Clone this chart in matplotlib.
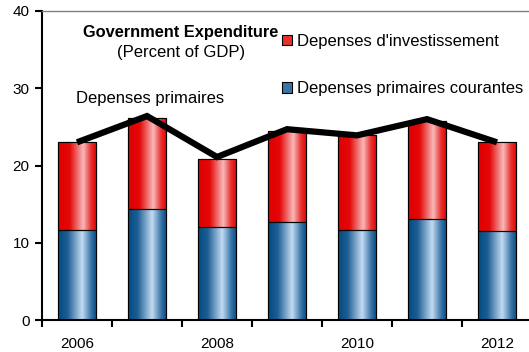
import numpy as np
import matplotlib
matplotlib.use("Agg")
import matplotlib.pyplot as plt
from matplotlib.colors import LinearSegmentedColormap
from matplotlib.patches import Patch

plt.rcParams['font.family'] = ['Liberation Sans', 'DejaVu Sans']

years = [2006, 2007, 2008, 2009, 2010, 2011, 2012]
courantes = [11.6, 14.4, 12.1, 12.7, 11.6, 13.1, 11.5]
totals = [23.1, 26.2, 20.9, 24.5, 23.9, 25.7, 23.0]
investissement = [t - c for t, c in zip(totals, courantes)]
primaires = [23.0, 26.4, 21.1, 24.7, 23.9, 26.0, 23.0]
xlabels = ['2006', '', '2008', '', '2010', '', '2012']

W, H = 529, 352
fig = plt.figure(figsize=(W / 100, H / 100), dpi=100)
ax = fig.add_axes([42 / W, (H - 320) / H, 490 / W, 309 / H])

x = np.arange(len(years))
bw = 0.55
blue_bars = ax.bar(x, courantes, bw, color='#004a80', edgecolor='black', linewidth=0.8, zorder=2)
red_bars = ax.bar(x, investissement, bw, bottom=courantes, color='#e00000', edgecolor='black', linewidth=0.8, zorder=2)

blue_cmap = LinearSegmentedColormap.from_list('b', [(0, '#004a80'), (0.25, '#1f5f95'), (0.62, '#c2dbf2'), (0.85, '#3a75a8'), (1, '#004a80')])
red_cmap = LinearSegmentedColormap.from_list('r', [(0, '#e00000'), (0.3, '#e40808'), (0.65, '#f8b8b8'), (0.85, '#e83030'), (1, '#e00000')])
grad = np.linspace(0, 1, 256).reshape(1, -1)
for bars, cmap in [(blue_bars, blue_cmap), (red_bars, red_cmap)]:
    for b in bars:
        x0, y0 = b.get_x(), b.get_y()
        w, h = b.get_width(), b.get_height()
        im = ax.imshow(grad, cmap=cmap, aspect='auto', extent=[x0, x0 + w, y0, y0 + h], zorder=2.1, interpolation='bilinear')
        im.set_clip_path(b)
        ax.add_patch(plt.Rectangle((x0, y0), w, h, fill=False, edgecolor='black', linewidth=0.8, zorder=2.2))

ax.plot(x, primaires, color='black', linewidth=4.5, zorder=3, solid_capstyle='butt', solid_joinstyle='miter')

ax.set_xlim(-0.5, len(years) - 0.5)
ax.set_ylim(0, 40)
ax.set_yticks([0, 10, 20, 30, 40])
ax.set_xticks(x)
ax.set_xticklabels(xlabels)
ax.set_xticks(np.arange(-0.5, len(years), 1), minor=True)
ax.tick_params(axis='x', which='major', length=0, pad=12, labelsize=11)
ax.tick_params(axis='x', which='minor', length=5, width=1.5, direction='out')
ax.tick_params(axis='y', length=5, width=1.5, direction='out', labelsize=11, pad=4)

ax.spines['right'].set_visible(False)
ax.spines['top'].set_color('#808080')
ax.spines['top'].set_linewidth(1)
ax.spines['left'].set_linewidth(1.5)
ax.spines['bottom'].set_linewidth(1.5)

fig.text(181 / W, 1 - 32 / H, 'Government Expenditure', ha='center', va='center', fontsize=11.8, fontweight='bold')
fig.text(181 / W, 1 - 52 / H, '(Percent of GDP)', ha='center', va='center', fontsize=12)
fig.text(76 / W, 1 - 99 / H, 'Depenses primaires', ha='left', va='center', fontsize=12)

handles = [Patch(facecolor='#e83030', edgecolor='black', linewidth=0.8),
           Patch(facecolor='#3a75a8', edgecolor='black', linewidth=0.8)]
fig.legend(handles, ["Depenses d'investissement", 'Depenses primaires courantes'],
           loc='upper left', bbox_to_anchor=(282 / W, 1 - 34 / H), frameon=False,
           fontsize=12, handlelength=0.6, handleheight=0.6, handletextpad=0.3,
           labelspacing=1.95, borderaxespad=0, borderpad=0)

fig.savefig('out.png', dpi=100)
